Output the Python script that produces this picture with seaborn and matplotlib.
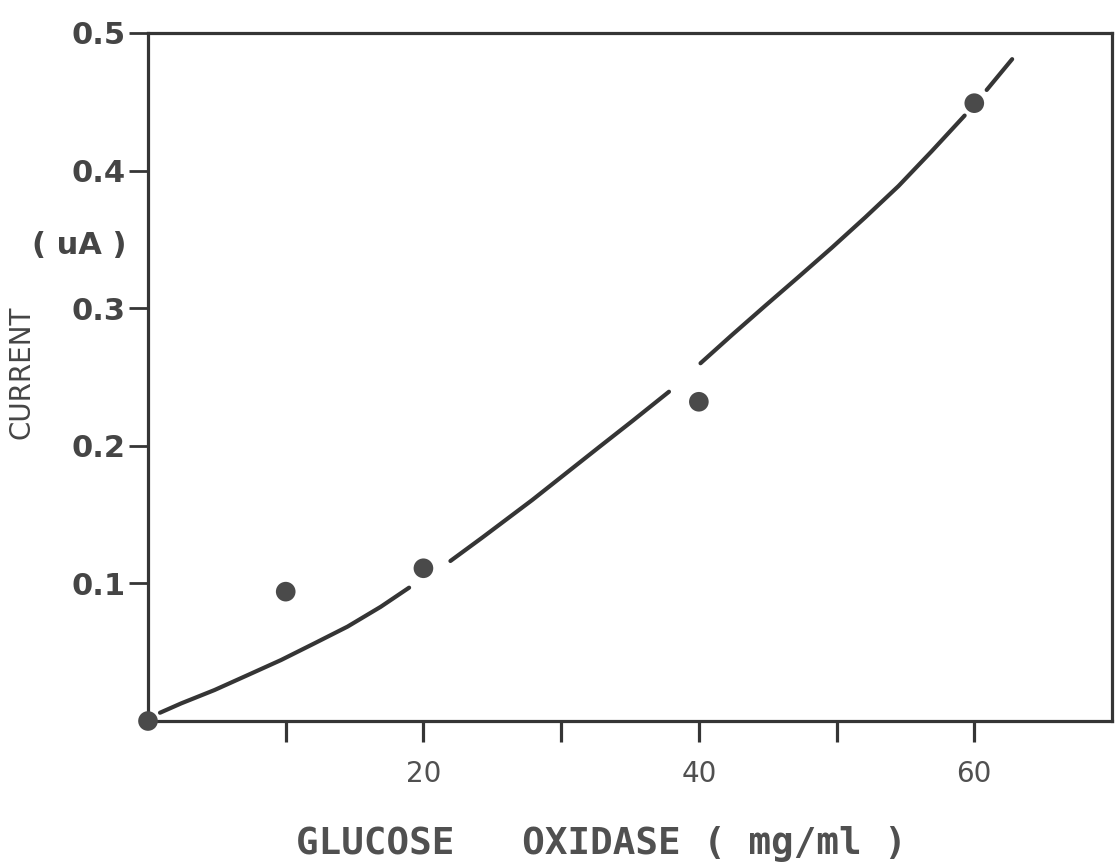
import matplotlib
matplotlib.use("Agg")
import matplotlib.pyplot as plt
import seaborn as sns
import pandas as pd

# Data
enzyme = [0, 10, 20, 40, 60]                 # glucose oxidase (mg/ml)
current = [0.0, 0.094, 0.111, 0.232, 0.449]  # current (uA)

# Hand-drawn fitted curve (drawn in broken pieces around the dots)
curve_x = [0.87, 2.41, 4.83, 7.25, 9.66, 12.08, 14.49, 16.9, 18.96,
           21.96, 24.3, 27.9, 32.75, 35.17, 37.83,
           40.12, 42.4, 44.8, 47.2, 49.66, 52.08, 54.5, 56.9, 59.3,
           60.9, 62.75]
curve_y = [0.006, 0.0128, 0.0225, 0.0334, 0.0443, 0.0564, 0.0686, 0.083, 0.0969,
           0.1163, 0.1335, 0.1606, 0.199, 0.218, 0.2393,
           0.260, 0.2805, 0.3016, 0.3224, 0.344, 0.366, 0.3888, 0.414, 0.440,
           0.4586, 0.481]
curve_piece = [1] * 9 + [2] * 6 + [3] * 9 + [4] * 2

x_ticks = [10, 20, 30, 40, 50, 60]
x_ticklabels = ["", "20", "", "40", "", "60"]
y_ticks = [0.1, 0.2, 0.3, 0.4, 0.5]
y_ticklabels = ["0.1", "0.2", "0.3", "0.4", "0.5"]

sns.set_theme(style="white")
plt.rcParams["font.family"] = ["DejaVu Sans"]

ink = "#353535"
fig = plt.figure(figsize=(11.2, 8.66), dpi=100, facecolor="white")
ax = fig.add_axes([148 / 1120, 1 - 721 / 866, (1112 - 148) / 1120, (721 - 33) / 866])
ax.set_facecolor("white")

curve_df = pd.DataFrame({"x": curve_x, "y": curve_y, "piece": curve_piece})
sns.lineplot(data=curve_df, x="x", y="y", units="piece", estimator=None, sort=False,
             color=ink, linewidth=3.0, ax=ax, legend=False)
for line in ax.lines:
    line.set_solid_capstyle("round")
    line.set_solid_joinstyle("round")

pts_df = pd.DataFrame({"x": enzyme, "y": current})
sns.scatterplot(data=pts_df, x="x", y="y", s=200, color="#4a4a4a", edgecolor="none",
                ax=ax, clip_on=False, zorder=5, legend=False)

ax.set_xlim(0, 70)
ax.set_ylim(0, 0.5)

for side in ["left", "right", "top", "bottom"]:
    ax.spines[side].set_visible(True)
    ax.spines[side].set_color(ink)
    ax.spines[side].set_linewidth(2.3)

ax.set_xticks(x_ticks)
ax.set_xticklabels(x_ticklabels, fontsize=20, color="#505050")
ax.set_yticks(y_ticks)
ax.set_yticklabels(y_ticklabels, fontsize=22, fontweight="bold", color="#454545")
ax.tick_params(axis="x", direction="out", length=15, width=2.3, color=ink, pad=13,
               bottom=True)
ax.tick_params(axis="y", direction="out", length=14, width=2.0, color=ink, pad=2,
               left=True)

ax.set_xlabel("GLUCOSE   OXIDASE ( mg/ml )", fontsize=27, fontweight="bold",
              family="DejaVu Sans Mono", color="#505050")
ax.xaxis.label.set_va("center")
ax.xaxis.set_label_coords((601 - 148) / 964, (721 - 844) / 688)

ax.set_ylabel("CURRENT", fontsize=20, color="#454545")
ax.yaxis.label.set_va("center")
ax.yaxis.set_label_coords((22 - 148) / 964, (721 - 372) / 688)

ax.text((79 - 148) / 964, (721 - 245) / 688, "( uA )", transform=ax.transAxes,
        ha="center", va="center", fontsize=22, fontweight="bold", color="#454545")

fig.savefig("out.png", dpi=100, facecolor="white")
